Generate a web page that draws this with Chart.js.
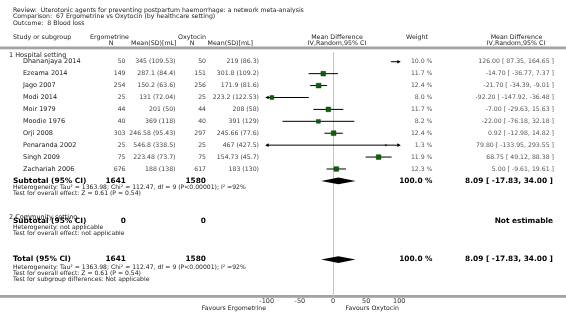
<!DOCTYPE html>
<html><head><meta charset="utf-8">
<script src="https://cdn.jsdelivr.net/npm/chart.js@4"></script>
<style>html,body{margin:0;padding:0;background:#fff}</style>
</head><body><canvas id="c" width="566" height="320"></canvas>
<script>
// ---------- data ----------
const studies = ["Dhananjaya 2014","Ezeama 2014","Jago 2007","Modi 2014","Moir 1979","Moodie 1976","Orji 2008","Penaranda 2002","Singh 2009","Zachariah 2006"];
const ergoN = [50,149,254,25,44,40,303,25,75,676];
const ergoMean = [345,287.1,150.2,131,201,369,246.58,546.8,223.48,188];
const ergoSD = [109.53,84.4,63.6,72.04,50,118,95.43,338.5,73.7,138];
const oxyN = [50,151,256,25,44,40,297,25,75,617];
const oxyMean = [219,301.8,171.9,223.2,208,391,245.66,467,154.73,183];
const oxySD = [86.3,109.2,81.6,122.53,58,129,77.6,427.5,45.7,130];
const weights = [10.0,11.7,12.4,8.0,11.7,8.2,12.4,1.3,11.9,12.3];
const md = [126.00,-14.70,-21.70,-92.20,-7.00,-22.00,0.92,79.80,68.75,5.00];
const ciLow = [87.35,-36.77,-34.39,-147.92,-29.63,-76.18,-12.98,-133.95,49.12,-9.61];
const ciHigh = [164.65,7.37,-9.01,-36.48,15.63,32.18,14.82,293.55,88.38,19.61];
const subtotal = {ergoN:1641, oxyN:1580, weight:100.0, md:8.09, lo:-17.83, hi:34.00};
const total = {ergoN:1641, oxyN:1580, weight:100.0, md:8.09, lo:-17.83, hi:34.00};
const xTicks = [-100,-50,0,50,100];
const subtotalRow = 10, totalRow = 16.6;

// ---------- helpers ----------
const FONT = '"DejaVu Sans", Verdana, sans-serif';
function txt(ctx, s, x, y, align, size, bold, color){
  ctx.save();
  ctx.font = (bold ? 'bold ' : '') + size + 'px ' + FONT;
  ctx.textAlign = align; ctx.textBaseline = 'middle';
  ctx.fillStyle = color; ctx.fillText(s, x, y);
  ctx.restore();
}
const f2 = v => v.toFixed(2);
const mdText = (m,l,h) => f2(m) + ' [ ' + f2(l) + ', ' + f2(h) + ' ]';

const datasets = [
  { type:'scatter', data: md.map((v,i)=>({x:v,y:i})), pointStyle:'rect',
    pointRadius: weights.map(w=>0.95*Math.sqrt(w)), backgroundColor:'#0b610b', borderColor:'#083f08', borderWidth:0.5 }
].concat(studies.map((s,i)=>({ type:'line', data:[{x:ciLow[i],y:i},{x:ciHigh[i],y:i}],
  borderColor:'#000', borderWidth:1, pointRadius:0 })));

const plugin = {
  id:'forest',
  beforeDraw(chart){
    const c = chart.ctx;
    c.save(); c.fillStyle='#a3a3a3';
    c.fillRect(0,46.5,566,2.8);
    c.fillRect(0,295,566,2.8);
    c.restore();
  },
  afterDatasetsDraw(chart){
    const c = chart.ctx, xs = chart.scales.x, ys = chart.scales.y;
    c.save(); c.fillStyle='#000';
    studies.forEach((s,i)=>{
      const y = ys.getPixelForValue(i);
      if (ciHigh[i] > xs.max){ const x = xs.getPixelForValue(xs.max)+0.5;
        c.beginPath(); c.moveTo(x+1,y); c.lineTo(x-2.5,y-1.8); c.lineTo(x-2.5,y+1.8); c.closePath(); c.fill(); }
      if (ciLow[i] < xs.min){ const x = xs.getPixelForValue(xs.min)-0.5;
        c.beginPath(); c.moveTo(x-1,y); c.lineTo(x+2.5,y-1.8); c.lineTo(x+2.5,y+1.8); c.closePath(); c.fill(); }
    });
    [[subtotal,subtotalRow],[total,totalRow]].forEach(([d,row])=>{
      const y = ys.getPixelForValue(row);
      c.beginPath();
      c.moveTo(xs.getPixelForValue(d.lo), y);
      c.lineTo(xs.getPixelForValue(d.md), y-3.4);
      c.lineTo(xs.getPixelForValue(d.hi), y);
      c.lineTo(xs.getPixelForValue(d.md), y+3.4);
      c.closePath(); c.fill();
    });
    c.restore();
  },
  afterDraw(chart){
    const c = chart.ctx, ys = chart.scales.y;
    const dk='#222', md2='#444', lt='#555';
    const NS = 6.2;
    txt(c,'Review:  Uterotonic agents for preventing postpartum haemorrhage: a network meta-analysis',13,10.5,'left',6.2,false,dk);
    txt(c,'Comparison:  67 Ergometrine vs Oxytocin (by healthcare setting)',13,16.5,'left',6.2,false,dk);
    txt(c,'Outcome:  8 Blood loss',13,23,'left',6.2,false,dk);
    txt(c,'Study or subgroup',13,37.5,'left',6.3,false,dk);
    txt(c,'Ergometrine',90,37.5,'left',6.3,false,dk);
    txt(c,'N',111,43.5,'center',6.3,false,dk);
    txt(c,'Mean(SD)[mL]',176.5,43.5,'right',6.3,false,dk);
    txt(c,'Oxytocin',178,37.5,'left',6.3,false,dk);
    txt(c,'N',192,43.5,'center',6.3,false,dk);
    txt(c,'Mean(SD)[mL]',253,43.5,'right',6.3,false,dk);
    txt(c,'Mean Difference',337,37.5,'center',6.3,false,dk);
    txt(c,'IV,Random,95% CI',337,43.5,'center',6.3,false,dk);
    txt(c,'Weight',417,37.5,'center',6.3,false,dk);
    txt(c,'Mean Difference',516.5,37.5,'center',6.3,false,dk);
    txt(c,'IV,Random,95% CI',516,43.5,'center',6.3,false,dk);
    txt(c,'1 Hospital setting',9,55.5,'left',6.5,false,dk);
    studies.forEach((s,i)=>{
      const y = ys.getPixelForValue(i);
      txt(c,s,23,y,'left',6.5,false,dk);
      txt(c,String(ergoN[i]),125.5,y,'right',NS,false,md2);
      txt(c,ergoMean[i]+' ('+ergoSD[i]+')',175.5,y,'right',NS,false,md2);
      txt(c,String(oxyN[i]),206,y,'right',NS,false,md2);
      txt(c,oxyMean[i]+' ('+oxySD[i]+')',259,y,'right',NS,false,md2);
      txt(c,weights[i].toFixed(1)+' %',432.5,y,'right',NS,false,lt);
      txt(c,mdText(md[i],ciLow[i],ciHigh[i]),554,y,'right',NS,false,lt);
    });
    let y = ys.getPixelForValue(subtotalRow);
    txt(c,'Subtotal (95% CI)',13,y,'left',7.4,true,'#000');
    txt(c,String(subtotal.ergoN),126,y,'right',7.4,true,'#000');
    txt(c,String(subtotal.oxyN),206,y,'right',7.4,true,'#000');
    txt(c,subtotal.weight.toFixed(1)+' %',432.5,y,'right',7.4,true,'#000');
    txt(c,mdText(subtotal.md,subtotal.lo,subtotal.hi),553,y,'right',7.4,true,'#000');
    txt(c,'Heterogeneity: Tau\u00b2 = 1363.98; Chi\u00b2 = 112.47, df = 9 (P<0.00001); I\u00b2 =92%',13,187.5,'left',6.1,false,dk);
    txt(c,'Test for overall effect: Z = 0.61 (P = 0.54)',13,193.5,'left',6.1,false,dk);
    txt(c,'2 Community setting',9,217.5,'left',6.5,false,dk);
    txt(c,'Subtotal (95% CI)',13,221,'left',7.4,true,'#000');
    txt(c,'0',126,221,'right',7.4,true,'#000');
    txt(c,'0',206,221,'right',7.4,true,'#000');
    txt(c,'Not estimable',553,221,'right',7.4,true,'#000');
    txt(c,'Heterogeneity: not applicable',13,227.3,'left',6.1,false,dk);
    txt(c,'Test for overall effect: not applicable',13,233.5,'left',6.1,false,dk);
    y = ys.getPixelForValue(totalRow);
    txt(c,'Total (95% CI)',13,y,'left',7.4,true,'#000');
    txt(c,String(total.ergoN),126,y,'right',7.4,true,'#000');
    txt(c,String(total.oxyN),206,y,'right',7.4,true,'#000');
    txt(c,total.weight.toFixed(1)+' %',432.5,y,'right',7.4,true,'#000');
    txt(c,mdText(total.md,total.lo,total.hi),553,y,'right',7.4,true,'#000');
    txt(c,'Heterogeneity: Tau\u00b2 = 1363.98; Chi\u00b2 = 112.47, df = 9 (P<0.00001); I\u00b2 =92%',13,267,'left',6.1,false,dk);
    txt(c,'Test for overall effect: Z = 0.61 (P = 0.54)',13,273,'left',6.1,false,dk);
    txt(c,'Test for subgroup differences: Not applicable',13,279.5,'left',6.1,false,dk);
    txt(c,'Favours Ergometrine',266,308.5,'right',6.2,false,dk);
    txt(c,'Favours Oxytocin',345.5,308.5,'left',6.2,false,dk);
  }
};

new Chart(document.getElementById('c').getContext('2d'), {
  type:'scatter',
  data:{datasets},
  plugins:[plugin],
  options:{
    responsive:false, animation:false, devicePixelRatio:1,
    layout:{padding:{left:266.7,right:166.7,top:52.2,bottom:0}},
    plugins:{legend:{display:false}, tooltip:{enabled:false}},
    scales:{
      x:{type:'linear', min:-100, max:100,
        afterBuildTicks: s => { s.ticks = xTicks.map(v=>({value:v})); },
        afterFit: s => { s.height = 23.5; },
        ticks:{font:{size:6.5,family:FONT}, color:'#333', padding:1, maxRotation:0, autoSkip:false},
        grid:{color: c => (c.tick && c.tick.value===0) ? '#c4c4c4' : 'rgba(0,0,0,0)', drawTicks:false, lineWidth:1},
        border:{display:false}},
      y:{type:'linear', min:-0.8, max:19.7, reverse:true, display:false}
    }
  }
});
</script>
</body></html>
